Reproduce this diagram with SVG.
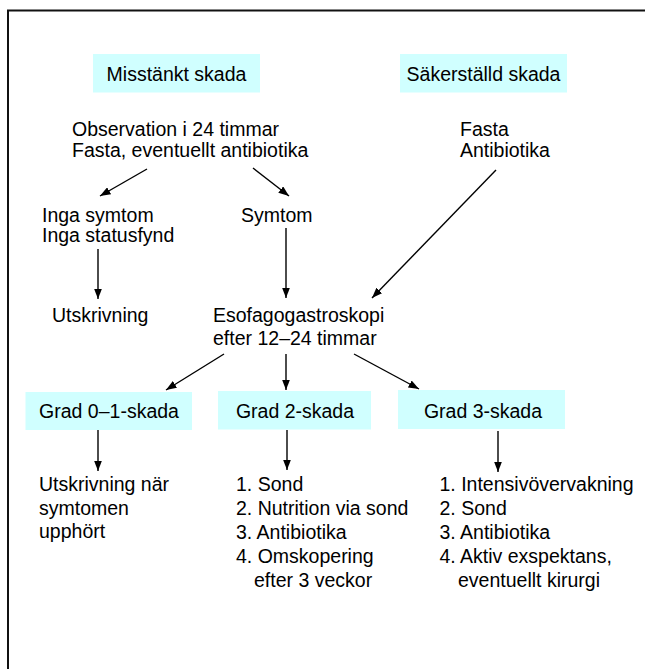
<svg xmlns="http://www.w3.org/2000/svg" width="645" height="669" viewBox="0 0 645 669">
<defs>
<marker id="ah" markerUnits="userSpaceOnUse" markerWidth="11" markerHeight="8" refX="10.5" refY="4" orient="auto">
<path d="M0,0 L10.5,4 L0,8 z" fill="#000"/>
</marker>
<style>
.t{font-family:"Liberation Sans",Arial,sans-serif;font-size:19.5px;fill:#000}
.c{text-anchor:middle}
.box{fill:#d0ffff;stroke:none}
.ln{stroke:#000;stroke-width:1.4;fill:none;marker-end:url(#ah)}
.fr{stroke:#111;stroke-width:2;fill:none}
</style>
</defs>
<rect width="645" height="669" fill="#fff"/>
<path class="fr" d="M8,669 L8,10.5 L645,10.5"/>

<g id="misstankt">
<rect class="box" x="93" y="54" width="167" height="38.5"/>
<text class="t c" x="176.5" y="81">Misstänkt skada</text>
</g>
<g id="sakerstalld">
<rect class="box" x="400" y="54" width="167" height="38.5"/>
<text class="t c" x="483.5" y="81">Säkerställd skada</text>
</g>
<g id="observation">
<text class="t" x="72" y="136">Observation i 24 timmar</text>
<text class="t" x="72" y="157">Fasta, eventuellt antibiotika</text>
</g>
<g id="fasta">
<text class="t" x="460" y="136">Fasta</text>
<text class="t" x="460" y="157">Antibiotika</text>
</g>
<g id="ingasymtom">
<text class="t" x="42" y="222">Inga symtom</text>
<text class="t" x="42" y="242">Inga statusfynd</text>
</g>
<g id="symtom">
<text class="t" x="241" y="222">Symtom</text>
</g>
<g id="utskrivning">
<text class="t" x="52" y="322">Utskrivning</text>
</g>
<g id="esofago">
<text class="t" x="213" y="322">Esofagogastroskopi</text>
<text class="t" x="213" y="345">efter 12–24 timmar</text>
</g>
<g id="grad01">
<rect class="box" x="25.5" y="392" width="166.5" height="38"/>
<text class="t c" x="109" y="417.5">Grad 0–1-skada</text>
</g>
<g id="grad2">
<rect class="box" x="218" y="391" width="153" height="38.5"/>
<text class="t c" x="295" y="417.5">Grad 2-skada</text>
</g>
<g id="grad3">
<rect class="box" x="398" y="390" width="167" height="39"/>
<text class="t c" x="483" y="417.5">Grad 3-skada</text>
</g>
<g id="atgard01">
<text class="t" x="39" y="491">Utskrivning när</text>
<text class="t" x="39" y="514.5">symtomen</text>
<text class="t" x="39" y="538">upphört</text>
</g>
<g id="atgard2">
<text class="t" x="236" y="491">1. Sond</text>
<text class="t" x="236" y="515">2. Nutrition via sond</text>
<text class="t" x="236" y="539">3. Antibiotika</text>
<text class="t" x="236" y="563">4. Omskopering</text>
<text class="t" x="254" y="587">efter 3 veckor</text>
</g>
<g id="atgard3">
<text class="t" x="439.5" y="491">1. Intensivövervakning</text>
<text class="t" x="439.5" y="515">2. Sond</text>
<text class="t" x="439.5" y="539">3. Antibiotika</text>
<text class="t" x="439.5" y="563">4. Aktiv exspektans,</text>
<text class="t" x="458" y="587">eventuellt kirurgi</text>
</g>

<g id="connectors">
<line class="ln" x1="147" y1="169" x2="100" y2="196"/>
<line class="ln" x1="253" y1="168" x2="289" y2="196"/>
<line class="ln" x1="496" y1="170" x2="372" y2="298"/>
<line class="ln" x1="98" y1="249" x2="98" y2="299"/>
<line class="ln" x1="286" y1="228" x2="286" y2="298"/>
<line class="ln" x1="224" y1="354" x2="166" y2="390"/>
<line class="ln" x1="286" y1="354" x2="286" y2="390"/>
<line class="ln" x1="354" y1="354" x2="419" y2="389"/>
<line class="ln" x1="98" y1="430" x2="98" y2="471"/>
<line class="ln" x1="287" y1="430" x2="287" y2="470"/>
<line class="ln" x1="498" y1="431" x2="498" y2="472"/>
</g>
</svg>
